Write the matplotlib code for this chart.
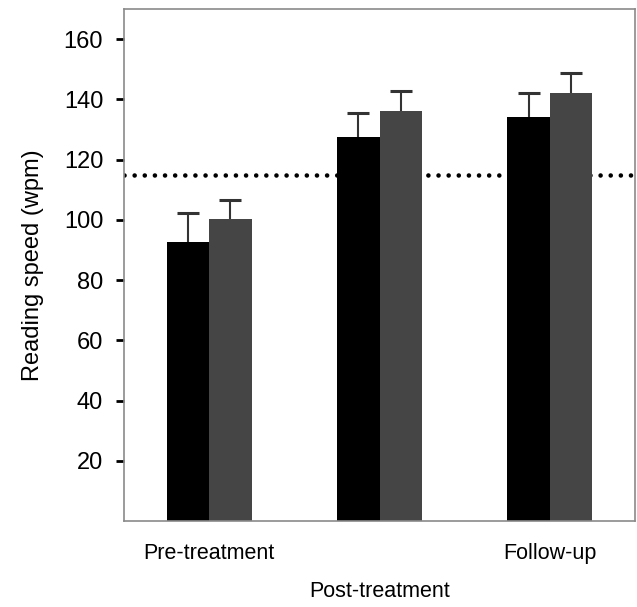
import numpy as np
import matplotlib
matplotlib.use("Agg")
import matplotlib.pyplot as plt

# reading speed per phase, two groups (black / dark grey bars)
phases = ["Pre-treatment", "Post-treatment", "Follow-up"]
group_a = [92.7, 127.6, 134.2]
group_b = [100.3, 136.2, 142.1]
err_a = [9.6, 7.9, 7.9]
err_b = [6.3, 6.6, 6.7]
reference_speed = 115
yticks = [20, 40, 60, 80, 100, 120, 140, 160]

plt.rcParams['font.family'] = ['Liberation Sans', 'DejaVu Sans']

fig = plt.figure(figsize=(6.37, 6.07), dpi=100)
ax = fig.add_axes([0.1947, 0.1417, 0.8022, 0.8435])

x = np.arange(len(phases))
w = 0.25
ax.axhline(reference_speed, color='black', lw=3.3, linestyle=(0, (0.01, 2.2)),
           dash_capstyle='round', zorder=1)
ax.bar(x - w / 2, group_a, w, color='#000000', zorder=2)
ax.bar(x + w / 2, group_b, w, color='#454545', zorder=2)
for xs, vals, errs in [(x - w / 2, group_a, err_a), (x + w / 2, group_b, err_b)]:
    eb = ax.errorbar(xs, vals, yerr=[np.zeros(3), errs], fmt='none',
                     ecolor='#333333', elinewidth=1.5, capsize=8, capthick=2.2,
                     zorder=3)
    # only the upper cap is drawn
    eb.lines[1][0].set_visible(False)

ax.set_xlim(-0.5, 2.5)
ax.set_ylim(0, 170)
ax.set_yticks(yticks)
ax.tick_params(axis='y', length=6, width=2, color='black', pad=9, labelsize=17)
ax.set_xticks(x)
ax.set_xticklabels(phases, fontsize=15.5)
ax.tick_params(axis='x', length=0, pad=16)
# middle label sits lower (staggered)
ax.get_xticklabels()[1].set_y(-0.074)

for s in ax.spines.values():
    s.set_color('#8a8a8a')
    s.set_linewidth(1.2)

ax.set_ylabel("Reading speed (wpm)", fontsize=17, labelpad=14)

fig.savefig("out.png", dpi=100, facecolor='white')
